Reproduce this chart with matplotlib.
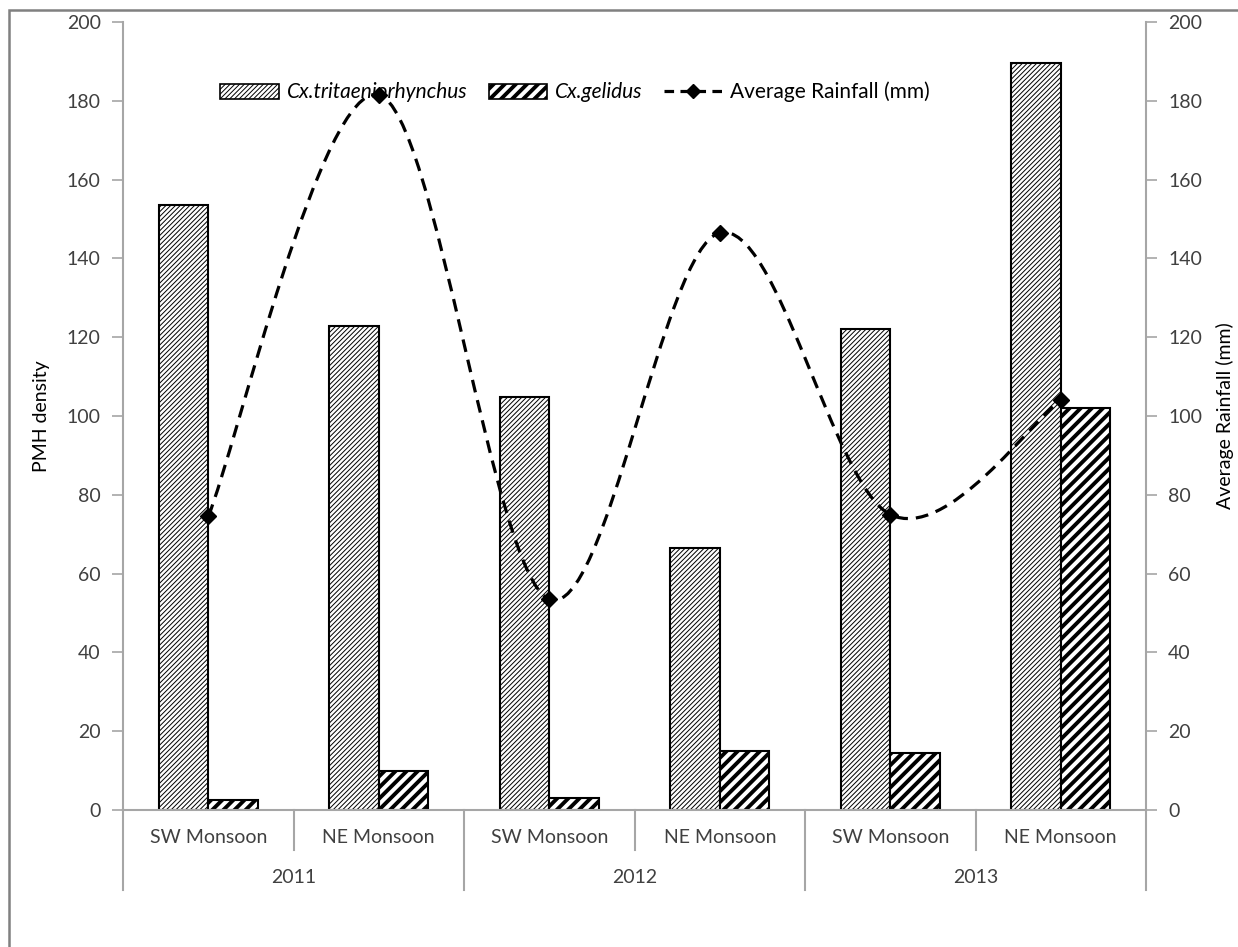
import matplotlib
matplotlib.use('Agg')
import matplotlib.pyplot as plt
from matplotlib.path import Path
from matplotlib.patches import PathPatch, Rectangle, Patch
from matplotlib.lines import Line2D
import matplotlib.transforms as mtransforms
import numpy as np

# data
seasons = ['SW Monsoon', 'NE Monsoon', 'SW Monsoon', 'NE Monsoon', 'SW Monsoon', 'NE Monsoon']
years = ['2011', '2012', '2013']
cx_tritaeniorhynchus = [153.5, 122.8, 104.8, 66.6, 122.0, 189.6]
cx_gelidus = [2.5, 10.0, 3.0, 15.0, 14.5, 102.0]
avg_rainfall = [74.5, 181.5, 53.5, 146.5, 75.0, 104.0]

plt.rcParams['font.family'] = ['Lato', 'DejaVu Sans']
txt = '#404040'
grey = '#a6a6a6'
fs = 14

fig = plt.figure(figsize=(12.38, 9.47), dpi=100)
ax = fig.add_axes([123 / 1238, 1 - 810 / 947, 1023 / 1238, 788 / 947])

x = np.arange(len(seasons))
w = 0.29
hatch_tri = '///////'
hatch_gel = '///'
hlw_tri = 0.7
hlw_gel = 2.8

plt.rcParams['hatch.linewidth'] = hlw_tri
b1 = ax.bar(x - w / 2, cx_tritaeniorhynchus, w, color='white', edgecolor='black',
            linewidth=1.5, hatch=hatch_tri, zorder=2)
plt.rcParams['hatch.linewidth'] = hlw_gel
b2 = ax.bar(x + w / 2, cx_gelidus, w, color='white', edgecolor='black',
            linewidth=1.5, hatch=hatch_gel, zorder=2)

ax.set_xlim(-0.5, len(seasons) - 0.5)
ax.set_ylim(0, 200)
ax.set_yticks(range(0, 201, 20))
ax.set_xticks(x)
ax.set_xticklabels(seasons, fontsize=fs, color=txt)
ax.tick_params(axis='x', length=0, pad=14)
ax.tick_params(axis='y', colors=grey, labelcolor=txt, labelsize=fs, length=8, width=1.2, pad=8)
ax.set_ylabel('PMH density', fontsize=fs, color='black', labelpad=12)
for s in ['top', 'right']:
    ax.spines[s].set_visible(False)
for s in ['left', 'bottom']:
    ax.spines[s].set_color(grey)
    ax.spines[s].set_linewidth(1.5)

# second level of the category axis
trans = mtransforms.blended_transform_factory(ax.transData, ax.transAxes)
for i in range(1, len(seasons)):
    if i % 2 == 1:
        ax.plot([i - 0.5, i - 0.5], [0, -40 / 788], transform=trans, color=grey,
                lw=1.5, clip_on=False)
for i in range(len(years) + 1):
    ax.plot([2 * i - 0.5, 2 * i - 0.5], [0, -80 / 788], transform=trans, color=grey,
            lw=1.5, clip_on=False)
for i, yr in enumerate(years):
    ax.text(2 * i + 0.5, -67 / 788, yr, transform=trans, ha='center', va='center',
            fontsize=fs, color=txt)

# secondary axis with the rainfall line (smoothed)
ax2 = ax.twinx()
ax2.set_ylim(0, 200)
ax2.set_yticks(range(0, 201, 20))
ax2.tick_params(axis='y', colors=grey, labelcolor=txt, labelsize=fs, length=8, width=1.2, pad=8)
for s in ['top', 'left', 'bottom']:
    ax2.spines[s].set_visible(False)
ax2.spines['right'].set_color(grey)
ax2.spines['right'].set_linewidth(1.5)
ax2.set_ylabel('Average Rainfall (mm)', fontsize=fs, color='black', labelpad=10)

pts = list(zip(x.astype(float), avg_rainfall))
verts = [pts[0]]
codes = [Path.MOVETO]
n = len(pts)
for i in range(n - 1):
    p0 = np.array(pts[max(i - 1, 0)])
    p1 = np.array(pts[i])
    p2 = np.array(pts[i + 1])
    p3 = np.array(pts[min(i + 2, n - 1)])
    c1 = p1 + (p2 - p0) / 6
    c2 = p2 - (p3 - p1) / 6
    verts += [tuple(c1), tuple(c2), tuple(p2)]
    codes += [Path.CURVE4] * 3
ax2.add_patch(PathPatch(Path(verts, codes), fill=False, edgecolor='black', lw=2.3,
                        linestyle=(0, (4, 2.5)), zorder=3))
ax2.plot(x, avg_rainfall, linestyle='none', marker='D', markersize=8, color='black', zorder=4)

handles = [
    Patch(facecolor='white', edgecolor='black', hatch=hatch_tri, linewidth=1.2),
    Patch(facecolor='white', edgecolor='black', hatch=hatch_gel, linewidth=1.2),
    Line2D([], [], color='black', lw=2.3, linestyle=(0, (3, 2)), marker='D', markersize=7),
]
labels = ['Cx.tritaeniorhynchus', 'Cx.gelidus', 'Average Rainfall (mm)']
leg = ax2.legend(handles, labels, loc='center', bbox_to_anchor=(0.442, 0.911), ncol=3,
                 frameon=False, fontsize=fs + 1, handlelength=2.8, handleheight=0.75,
                 columnspacing=1.0, handletextpad=0.4)
for t in leg.get_texts()[:2]:
    t.set_fontstyle('italic')
lh = leg.legend_handles
for h, lw in [(lh[0], hlw_tri), (lh[1], hlw_gel)]:
    if hasattr(h, 'set_hatch_linewidth'):
        h.set_hatch_linewidth(lw)

# outer frame of the chart area
fig.add_artist(Rectangle((9 / 1238, -0.1), 1.2, 1.1 - 10 / 947,
                         transform=fig.transFigure, fill=False, edgecolor='#808080', lw=1.8))

fig.savefig('out.png', dpi=100)
